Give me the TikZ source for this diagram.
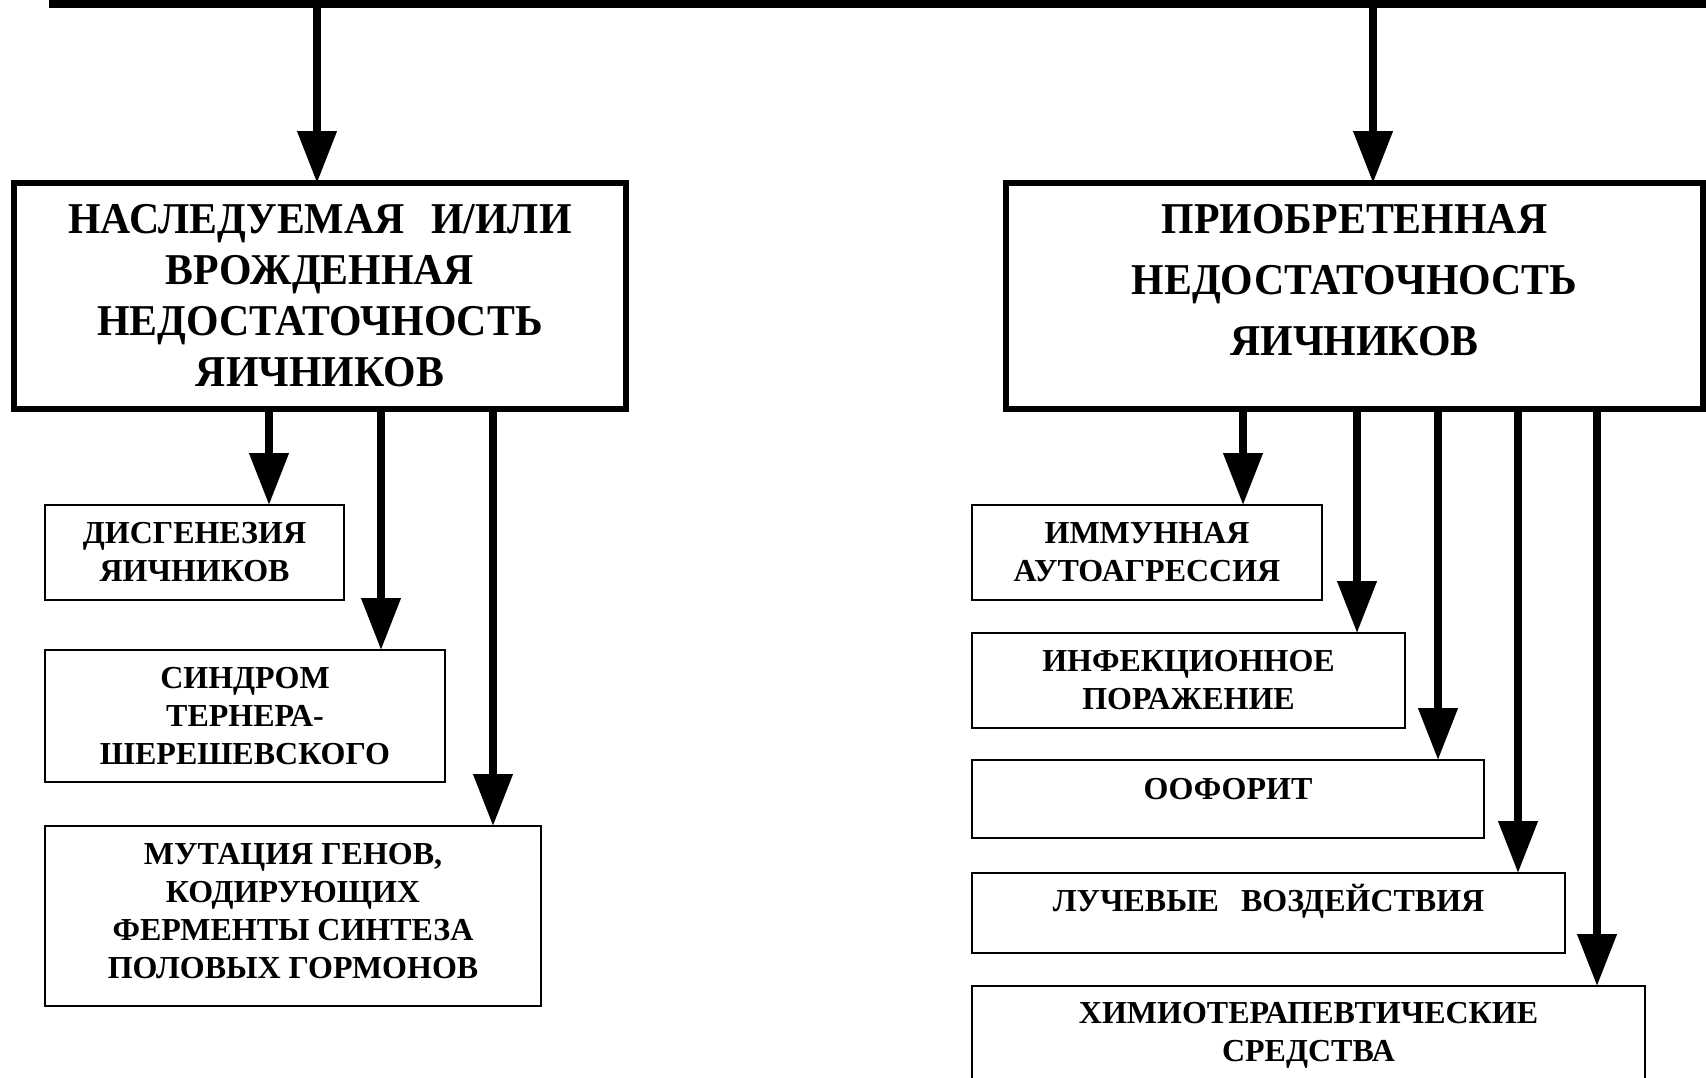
\documentclass[tikz,border=0pt]{standalone}
\usepackage{fontspec}
\setmainfont{Liberation Serif}
\newfontfamily\bigfont{Liberation Serif}[FakeStretch=0.95]
\usetikzlibrary{arrows.meta}
\begin{document}
\begin{tikzpicture}[x=0.5pt,y=-0.5pt,
  arr/.style={line width=3.8pt,-{Triangle[length=26pt,width=19pt]}},
  bigbox/.style={draw,line width=3pt,anchor=north west,inner sep=0pt,outer sep=0pt,align=center,
    font=\bigfont\bfseries\fontsize{22}{25.5}\selectfont},
  bigtxt/.style={align=center,inner sep=0pt,font=\bigfont\bfseries\fontsize{22}{30.5}\selectfont},
  smallbox/.style={draw,line width=1.3pt,anchor=north west,inner sep=0pt,outer sep=0pt,align=center,
    font=\bfseries\fontsize{16}{19}\selectfont},
  smalltxt/.style={align=center,inner sep=0pt,font=\bfseries\fontsize{16}{19}\selectfont}]
\useasboundingbox (0,0) rectangle (1706,1077);
\clip (0,0) rectangle (1706,1077);

% top bar
\coordinate (topL) at (49,4);
\coordinate (topR) at (1710,4);
\coordinate (jL) at (317,4);
\coordinate (jR) at (1373,4);
\draw[line width=4pt] (topL) -- (topR);

% main boxes
\node[bigbox,minimum width=306pt,minimum height=113pt] (bigL) at (14,183)
  {НАСЛЕДУЕМАЯ\hspace{8pt} И/ИЛИ\\ВРОЖДЕННАЯ\\НЕДОСТАТОЧНОСТЬ\\ЯИЧНИКОВ};
\node[bigbox,minimum width=348.5pt,minimum height=113pt] (bigR) at (1006,183) {};
\node[bigtxt] (bigRt) at (1354.5,280) {ПРИОБРЕТЕННАЯ\\НЕДОСТАТОЧНОСТЬ\\ЯИЧНИКОВ};

% left boxes
\node[smallbox,minimum width=149.5pt,minimum height=47.5pt] (D) at (45,505) {ДИСГЕНЕЗИЯ\\ЯИЧНИКОВ};
\node[smallbox,minimum width=200pt,minimum height=66pt] (S) at (45,650) {СИНДРОМ\\ТЕРНЕРА-\\ШЕРЕШЕВСКОГО};
\node[smallbox,minimum width=248pt,minimum height=90pt] (M) at (45,826) {};
\node[smalltxt] (Mt) at (293,911.5)
  {МУТАЦИЯ ГЕНОВ,\\КОДИРУЮЩИХ\\ФЕРМЕНТЫ СИНТЕЗА\\ПОЛОВЫХ ГОРМОНОВ};

% right boxes
\node[smallbox,minimum width=175pt,minimum height=47.5pt] (I) at (972,505) {ИММУННАЯ\\АУТОАГРЕССИЯ};
\node[smallbox,minimum width=216.5pt,minimum height=47.5pt] (F) at (972,633) {ИНФЕКЦИОННОЕ\\ПОРАЖЕНИЕ};
\node[smallbox,minimum width=256pt,minimum height=39pt] (O) at (972,760) {};
\node[smalltxt] (Ot) at (1228,789) {ООФОРИТ};
\node[smallbox,minimum width=296.5pt,minimum height=40pt] (L) at (972,873) {};
\node[smalltxt] (Lt) at (1268.5,901) {ЛУЧЕВЫЕ\hspace{7pt} ВОЗДЕЙСТВИЯ};
\node[smallbox,minimum width=336.5pt,minimum height=57pt] (H) at (972,986) {};
\node[smalltxt] (Ht) at (1308.5,1035.5) {ХИМИОТЕРАПЕВТИЧЕСКИЕ\\СРЕДСТВА};

% arrows
\draw[arr] (jL) -- (jL |- bigL.north);
\draw[arr] (jR) -- (jR |- bigR.north);

\draw[arr] (bigL.south -| 269,0) -- (D.north -| 269,0);
\draw[arr] (bigL.south -| 381,0) -- (S.north -| 381,0);
\draw[arr] (bigL.south -| 493,0) -- (M.north -| 493,0);

\draw[arr] (bigR.south -| 1243,0) -- (I.north -| 1243,0);
\draw[arr] (bigR.south -| 1357,0) -- (F.north -| 1357,0);
\draw[arr] (bigR.south -| 1438,0) -- (O.north -| 1438,0);
\draw[arr] (bigR.south -| 1518,0) -- (L.north -| 1518,0);
\draw[arr] (bigR.south -| 1597,0) -- (H.north -| 1597,0);
\end{tikzpicture}
\end{document}
